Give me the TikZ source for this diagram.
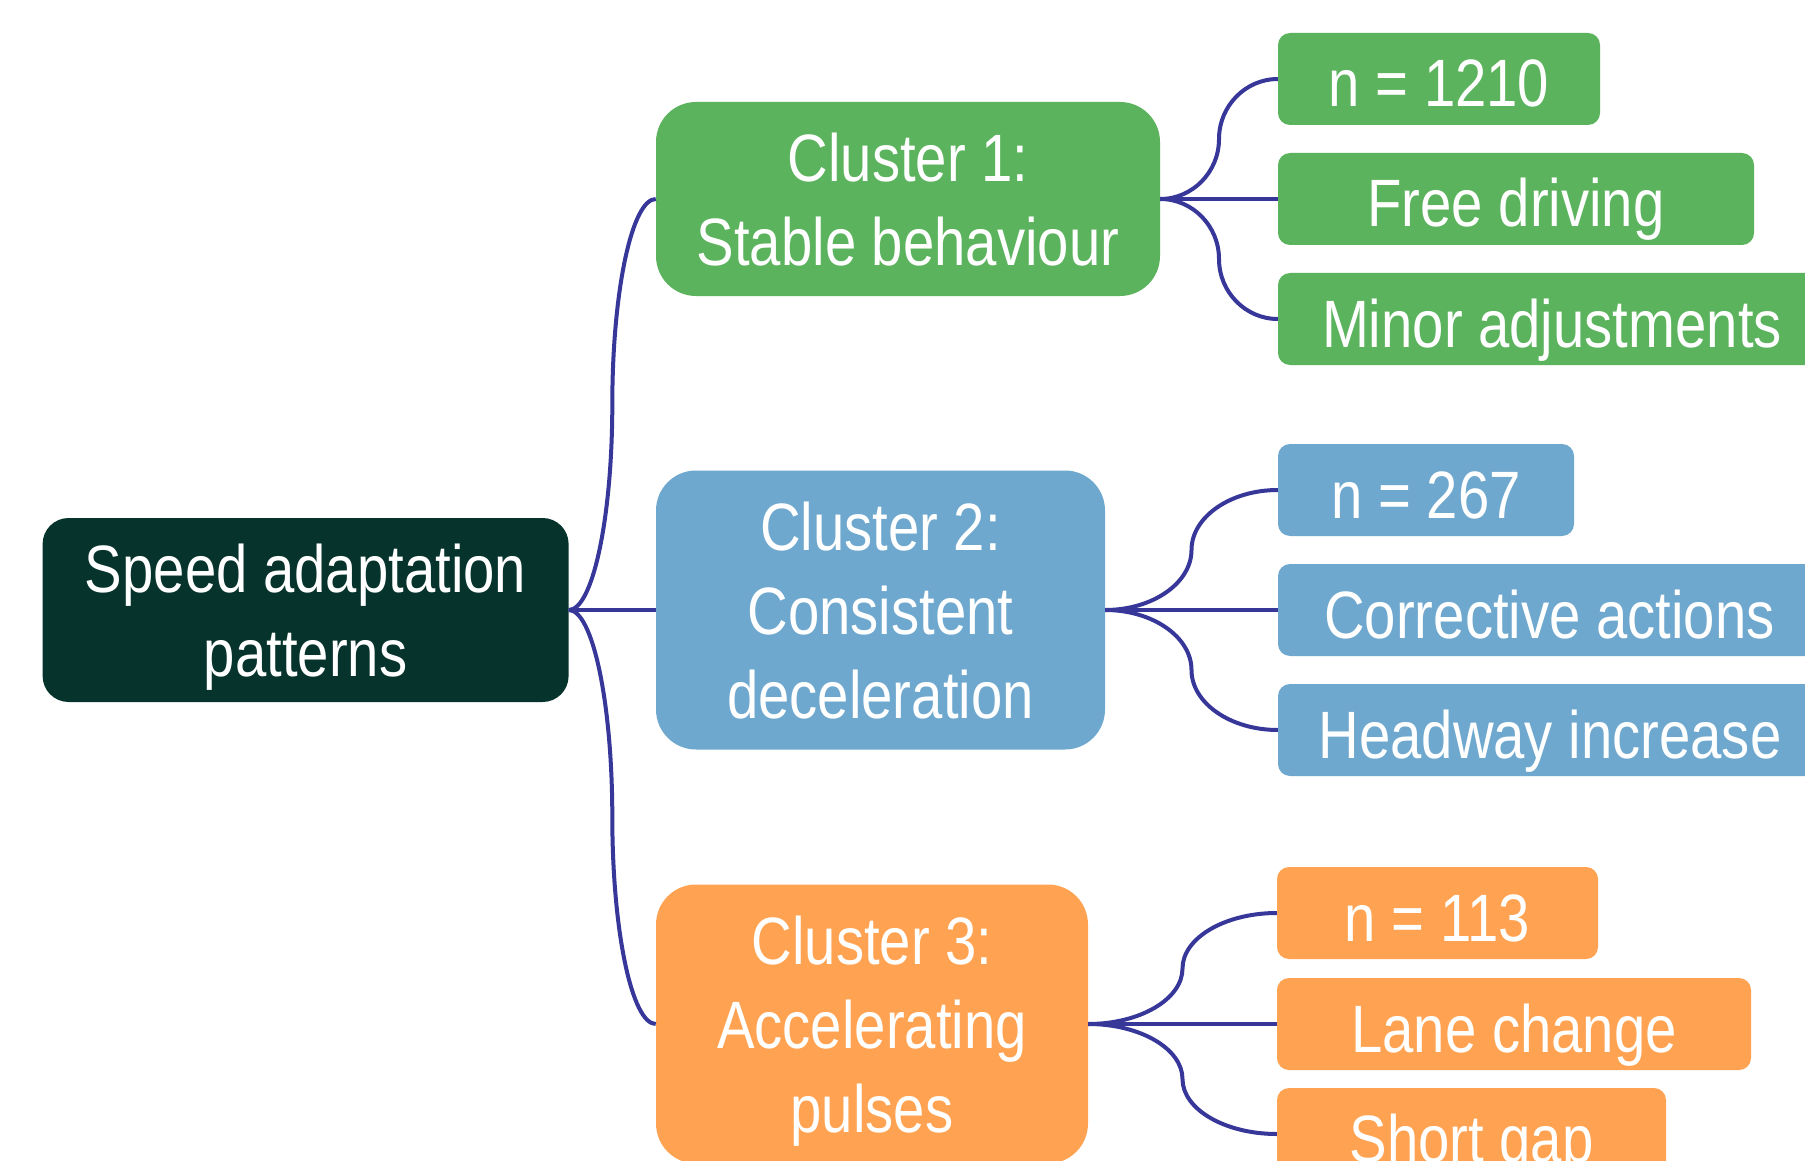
\documentclass[tikz,border=0pt]{standalone}
\usepackage{fontspec}
\setmainfont{Liberation Sans}[FakeStretch=0.84]
\usetikzlibrary{calc}

\definecolor{rootgreen}{HTML}{07332D}
\definecolor{stablegreen}{HTML}{5CB35D}
\definecolor{decelblue}{HTML}{6FA8CE}
\definecolor{accelorange}{HTML}{FFA352}
\definecolor{linkblue}{HTML}{37379A}

\tikzset{
  box/.style={text=white, align=center, inner sep=0pt, text depth=0pt, font=\fontsize{67}{84}\selectfont},
  rootbox/.style={box, fill=rootgreen, rounded corners=26pt, minimum width=526pt, minimum height=184pt},
  clusterbox/.style={box, rounded corners=40pt},
  leafbox/.style={box, rounded corners=12pt, minimum height=92pt, text height=56pt},
  link/.style={draw=linkblue, line width=4pt}
}

% curved branch: horizontal out, vertical in the middle, horizontal in
\newcommand{\branch}[2]{%
  \coordinate (mid) at ($(#1)!.5!(#2)$);
  \draw[link] (#1) .. controls ($(#1)!.55!(mid|-#1)$) and ($(mid)!.55!(mid|-#1)$) .. (mid)
    .. controls ($(mid)!.55!(mid|-#2)$) and ($(#2)!.55!(mid|-#2)$) .. (#2);}

\begin{document}
\begin{tikzpicture}[x=1pt, y=-1pt]
  \useasboundingbox[fill=white] (0,0) rectangle (1805,1161);
  \clip (0,0) rectangle (1805,1161);

  % Root
  \node[rootbox] (root) at (305.6,610) {Speed adaptation\\patterns};

  % Clusters
  \node[clusterbox, fill=stablegreen, minimum width=504pt, minimum height=194pt]
    (c1) at (908,199) {Cluster 1:\\Stable behaviour};
  \node[clusterbox, fill=decelblue, minimum width=449pt, minimum height=279pt]
    (c2) at (880.5,610) {Cluster 2:\\Consistent\\deceleration};
  \node[clusterbox, fill=accelorange, minimum width=432pt, minimum height=279pt]
    (c3) at (872,1024) {Cluster 3:\\Accelerating\\pulses};

  % Leaves
  \foreach \name/\x/\y/\w/\col/\txt in {
      l1a/1439/79/322/stablegreen/{n = 1210},
      l1b/1516/199/476/stablegreen/{Free driving},
      l1c/1552/319/548/stablegreen/{Minor adjustments},
      l2a/1426/490/296/decelblue/{n = 267},
      l2b/1549.5/610/543/decelblue/{Corrective actions},
      l2c/1550/730/544/decelblue/{Headway increase},
      l3a/1437.5/913/321/accelorange/{n = 113},
      l3b/1514/1024/474/accelorange/{Lane change},
      l3c/1471.5/1134/389/accelorange/{Short gap}} {
    \node[leafbox, fill=\col, minimum width=\w pt] (\name) at (\x,\y) {\txt};
  }

  % Links
  \foreach \a/\b in {root/c1, root/c2, root/c3,
      c1/l1a, c1/l1b, c1/l1c, c2/l2a, c2/l2b, c2/l2c, c3/l3a, c3/l3b, c3/l3c} {
    \branch{\a.east}{\b.west}
  }
\end{tikzpicture}
\end{document}
